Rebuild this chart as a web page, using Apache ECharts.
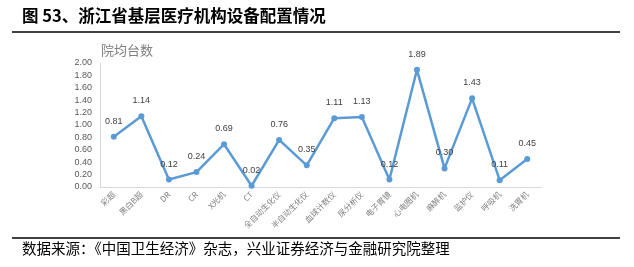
<!DOCTYPE html>
<html>
<head>
<meta charset="utf-8">
<script src="https://cdn.jsdelivr.net/npm/echarts@6/dist/echarts.min.js"></script>
<style>
  html, body { margin: 0; padding: 0; background: #fff; }
  #chart { width: 634px; height: 267px; }
</style>
</head>
<body>
<div id="chart"></div>
<script>
var categories = ['彩超', '黑白B超', 'DR', 'CR', 'X光机', 'CT', '全自动生化仪', '半自动生化仪',
  '血球计数仪', '尿分析仪', '电子胃镜', '心电图机', '麻醉机', '监护仪', '呼吸机', '洗胃机']
var values = [0.81, 1.14, 0.12, 0.24, 0.69, 0.02, 0.76, 0.35, 1.11, 1.13, 0.12, 1.89, 0.30, 1.43, 0.11, 0.45]

var cjk = '"Noto Sans CJK SC", sans-serif'
var chart = echarts.init(document.getElementById('chart'))

chart.setOption({
  animation: false,
  grid: { left: 100, right: 93, top: 63, bottom: 80 },
  graphic: [
    {
      type: 'text', left: 22, top: 7,
      style: { text: '图 53、浙江省基层医疗机构设备配置情况', font: 'bold 16.5px ' + cjk, fill: '#000' }
    },
    { type: 'line', shape: { x1: 12, y1: 32, x2: 620, y2: 32 }, style: { stroke: '#000', lineWidth: 1.5 } },
    { type: 'line', shape: { x1: 12, y1: 238, x2: 620, y2: 238 }, style: { stroke: '#000', lineWidth: 1.5 } },
    {
      type: 'text', left: 22, top: 241,
      style: { text: '数据来源：《中国卫生经济》杂志，兴业证券经济与金融研究院整理', font: '14.5px ' + cjk, fill: '#000' }
    },
    {
      type: 'text', left: 101, top: 44,
      style: { text: '院均台数', font: '13px ' + cjk, fill: '#7f7f7f' }
    }
  ],
  xAxis: {
    type: 'category',
    data: categories,
    boundaryGap: true,
    axisLine: { lineStyle: { color: '#d9d9d9' } },
    axisTick: { show: false },
    axisLabel: { rotate: 45, interval: 0, fontSize: 8, color: '#7f7f7f', fontFamily: cjk, margin: 6 }
  },
  yAxis: {
    type: 'value',
    min: 0,
    max: 2,
    interval: 0.2,
    axisLine: { show: true, lineStyle: { color: '#d9d9d9' } },
    axisTick: { show: false },
    splitLine: { show: false },
    axisLabel: {
      fontSize: 9, color: '#595959', fontFamily: 'Liberation Sans, sans-serif', margin: 8,
      formatter: function (v) { return v.toFixed(2) }
    }
  },
  series: [
    {
      type: 'line',
      data: values,
      symbol: 'circle',
      symbolSize: 6,
      lineStyle: { color: '#5b9bd5', width: 2.5 },
      itemStyle: { color: '#5b9bd5' },
      label: {
        show: true, position: 'top', distance: 8, fontSize: 9, color: '#404040',
        fontFamily: 'Liberation Sans, sans-serif',
        formatter: function (p) { return p.value.toFixed(2) }
      }
    }
  ]
})
</script>
</body>
</html>
